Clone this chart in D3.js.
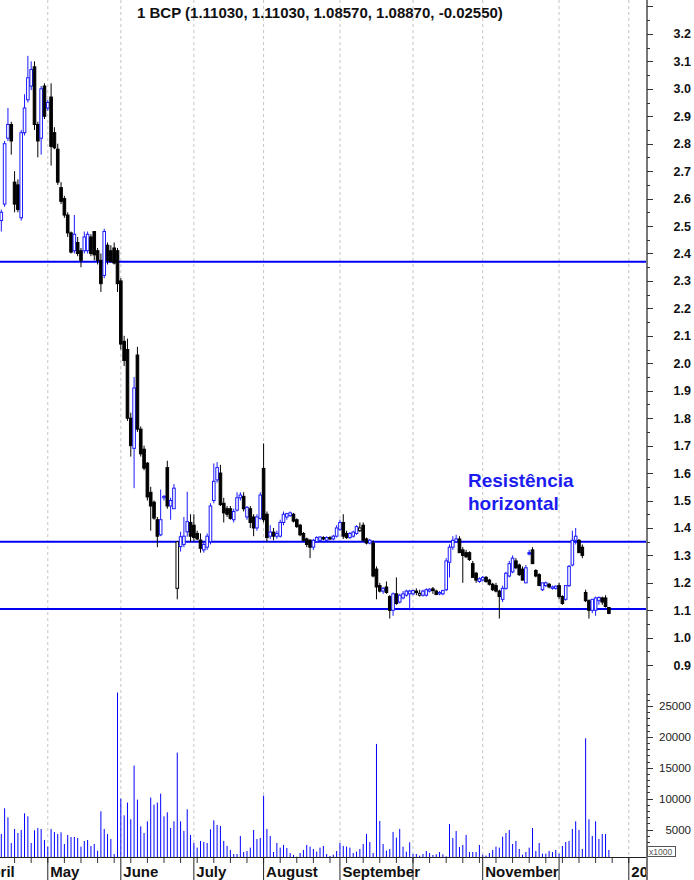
<!DOCTYPE html>
<html><head><meta charset="utf-8">
<script src="https://cdn.jsdelivr.net/npm/d3@7"></script>
<style>html,body{margin:0;padding:0;background:#fff;} svg{display:block;}</style>
</head><body>
<svg id="c" width="694" height="880"></svg>
<script>
// ---- DATA ----
const titleText = "1 BCP (1.11030, 1.11030, 1.08570, 1.08870, -0.02550)";
const opens = [
2.52,2.58,2.82,2.87,2.66,2.65,2.53,2.84,2.96,3.01,3.08,2.87,2.82,3.01,
2.93,2.97,2.84,2.78,2.64,2.60,2.54,2.475,2.41,2.44,2.41,2.41,2.41,2.46,2.48,2.41,2.375,2.32,2.43,2.41,2.42,2.41,
2.30,2.08,2.05,1.80,1.69,2.03,1.76,1.687,1.636,1.53,1.494,1.43,1.375,1.51,1.62,1.48,1.47,1.18,1.332,1.34,1.386,1.42,
1.41,1.38,1.356,1.32,1.33,1.35,1.50,1.575,1.60,1.49,1.47,1.47,1.43,1.465,1.51,1.515,1.44,1.47,1.44,1.40,1.435,
1.617,1.45,1.37,1.385,1.37,1.37,1.42,1.44,1.445,1.45,1.43,1.41,1.38,1.36,1.355,1.33,1.35,1.355,1.365,1.355,1.365,1.36,1.37,
1.395,1.42,1.38,1.365,1.37,1.38,1.39,1.41,1.36,1.345,1.345,1.25,1.19,1.17,1.185,1.15,1.10,1.16,1.13,1.145,1.155,1.16,
1.16,1.17,1.155,1.155,1.155,1.17,1.178,1.17,1.16,1.16,1.175,1.275,1.33,1.35,1.36,1.32,1.31,1.31,1.27,1.235,1.205,
1.21,1.22,1.21,1.195,1.19,1.17,1.14,1.18,1.225,1.24,1.28,1.265,1.25,1.20,1.31,1.32,1.245,1.23,1.175,1.19,1.195,1.18,1.18,
1.19,1.15,1.14,1.19,1.265,1.355,1.355,1.33,1.165,1.135,1.10,1.10,1.135,1.145,1.145,1.1103];
const highs = [
2.56,2.81,2.93,2.88,2.70,2.67,2.85,2.98,3.12,3.10,3.10,2.88,3.01,3.02,
2.96,3.02,2.86,2.80,2.66,2.61,2.55,2.48,2.54,2.46,2.42,2.48,2.48,2.47,2.48,2.42,2.40,2.49,2.44,2.43,2.44,2.42,
2.31,2.10,2.09,1.82,1.95,2.06,1.77,1.70,1.64,1.55,1.50,1.44,1.54,1.52,1.645,1.51,1.56,1.35,1.386,1.44,1.532,1.45,
1.45,1.39,1.38,1.35,1.38,1.49,1.635,1.64,1.63,1.51,1.48,1.48,1.47,1.53,1.53,1.53,1.48,1.48,1.45,1.45,1.53,
1.708,1.46,1.41,1.40,1.39,1.43,1.46,1.455,1.46,1.455,1.435,1.415,1.385,1.365,1.36,1.36,1.37,1.37,1.37,1.37,1.37,1.375,1.41,
1.43,1.45,1.39,1.385,1.39,1.41,1.42,1.42,1.365,1.36,1.355,1.26,1.20,1.185,1.205,1.155,1.165,1.22,1.16,1.17,1.175,1.175,
1.175,1.18,1.175,1.175,1.18,1.18,1.185,1.175,1.17,1.175,1.29,1.34,1.37,1.375,1.37,1.33,1.32,1.315,1.28,1.24,1.22,
1.225,1.225,1.215,1.20,1.20,1.175,1.19,1.24,1.28,1.30,1.29,1.27,1.26,1.265,1.32,1.33,1.25,1.235,1.20,1.205,1.20,1.19,1.19,
1.20,1.155,1.19,1.265,1.39,1.40,1.36,1.34,1.175,1.14,1.14,1.15,1.15,1.15,1.155,1.1103];
const lows = [
2.48,2.57,2.81,2.76,2.55,2.55,2.52,2.83,2.95,2.995,2.85,2.75,2.76,2.89,
2.92,2.72,2.78,2.65,2.58,2.53,2.46,2.40,2.40,2.39,2.35,2.40,2.40,2.39,2.375,2.36,2.26,2.31,2.36,2.37,2.36,2.26,
2.05,1.99,1.79,1.66,1.545,1.75,1.66,1.61,1.50,1.39,1.43,1.33,1.37,1.50,1.47,1.43,1.47,1.14,1.314,1.33,1.368,1.35,
1.35,1.355,1.31,1.31,1.32,1.34,1.49,1.565,1.48,1.42,1.44,1.43,1.42,1.46,1.50,1.46,1.43,1.40,1.37,1.39,1.43,
1.42,1.35,1.36,1.355,1.36,1.365,1.41,1.43,1.44,1.42,1.40,1.37,1.35,1.33,1.29,1.32,1.345,1.35,1.355,1.35,1.355,1.355,1.365,
1.39,1.36,1.36,1.36,1.365,1.375,1.385,1.35,1.34,1.34,1.22,1.14,1.165,1.16,1.16,1.07,1.08,1.12,1.125,1.14,1.15,1.10,
1.155,1.155,1.15,1.15,1.15,1.165,1.16,1.155,1.155,1.155,1.17,1.22,1.32,1.345,1.31,1.20,1.29,1.28,1.22,1.20,1.20,
1.205,1.20,1.19,1.17,1.165,1.07,1.13,1.175,1.22,1.235,1.25,1.225,1.21,1.20,1.30,1.27,1.22,1.19,1.17,1.185,1.18,1.175,1.175,
1.14,1.12,1.135,1.185,1.26,1.34,1.31,1.29,1.13,1.07,1.09,1.08,1.12,1.12,1.11,1.0857];
const closes = [
2.55,2.80,2.87,2.81,2.58,2.56,2.84,2.93,3.04,3.07,2.87,2.81,3.00,2.90,
2.95,2.79,2.785,2.66,2.59,2.54,2.475,2.405,2.47,2.40,2.375,2.46,2.47,2.40,2.395,2.375,2.29,2.48,2.375,2.37,2.365,2.29,
2.07,2.01,1.80,1.70,1.91,1.76,1.67,1.618,1.513,1.48,1.436,1.37,1.43,1.515,1.48,1.50,1.545,1.35,1.368,1.37,1.423,1.37,
1.365,1.36,1.326,1.34,1.37,1.48,1.57,1.62,1.485,1.455,1.45,1.435,1.46,1.51,1.52,1.47,1.475,1.42,1.40,1.44,1.52,
1.43,1.365,1.385,1.37,1.38,1.42,1.45,1.452,1.455,1.425,1.405,1.375,1.355,1.34,1.33,1.355,1.365,1.367,1.36,1.365,1.36,1.37,1.40,
1.42,1.37,1.365,1.38,1.385,1.405,1.40,1.355,1.345,1.355,1.225,1.185,1.17,1.18,1.165,1.10,1.16,1.125,1.155,1.16,1.17,1.17,
1.172,1.165,1.162,1.17,1.175,1.177,1.172,1.158,1.165,1.172,1.28,1.33,1.355,1.36,1.31,1.30,1.295,1.285,1.22,1.21,1.215,
1.22,1.205,1.195,1.175,1.17,1.15,1.18,1.235,1.27,1.29,1.255,1.23,1.21,1.255,1.305,1.27,1.225,1.19,1.20,1.20,1.185,1.185,1.188,
1.15,1.125,1.19,1.26,1.355,1.37,1.31,1.30,1.135,1.10,1.14,1.145,1.147,1.13,1.114,1.0887];
const volumes = [
4280,8440,6980,2820,5090,4440,4930,7630,7140,2820,4870,5250,5090,3310,
2230,5090,4600,4280,4550,2660,4120,3790,3790,3630,2230,3150,3310,2340,2660,1580,7950,5090,4280,3470,1040,27180,
10000,7300,9360,6660,15350,9840,5520,4440,6330,10170,9030,9360,10810,7140,7790,5250,6330,17460,6330,4770,8280,4120,
2820,2070,3150,2980,2820,5040,6490,5740,5580,3150,2340,1690,1040,1040,3960,1360,1530,2070,4930,3470,3630,
10490,5090,3960,1360,2820,2070,2500,2010,1200,880,600,1200,1690,2500,2230,1850,1420,2070,2340,1040,720,930,1530,
2820,2340,2230,2070,1200,1420,1850,2660,4280,2980,1200,18860,6390,2660,1580,1850,4600,3690,5090,2230,1420,2930,
1040,1040,770,1040,1530,1200,880,990,1360,990,660,5900,3630,4770,2170,2500,4120,1360,1360,1360,2500,
930,770,1200,1690,2230,2070,3850,4440,4930,2660,3150,1850,930,1360,2070,5250,1530,2820,1090,1090,1530,1360,1690,
1090,2340,2980,3150,5090,6330,4930,1850,19780,6660,3960,6330,3470,4280,4280,1690];
// month starts (trading-day index) and their labels
const monthStarts = [-7, 14, 36, 58, 79, 102, 124, 145, 168, 189];
const monthLabels = ["April","May","June","July","August","September","","November","","2009"];
const priceLabels = [0.9,1.0,1.1,1.2,1.3,1.4,1.5,1.6,1.7,1.8,1.9,2.0,2.1,2.2,2.3,2.4,2.5,2.6,2.7,2.8,2.9,3.0,3.1,3.2];
const volumeLabels = [5000,10000,15000,20000,25000];
const levels = [2.37, 1.35, 1.105];
const noteLines = ["Resistência", "horizontal"];

// ---- LAYOUT ----
const axisX = 647, volBase = 857;
const BLUE = "#0000f0", CANDLE_BLUE = "#1a1aff";
const svg = d3.select("#c");
const x = d3.scaleLinear().domain([0, 189]).range([1.3, 628.8]);
const y = d3.scaleLinear().domain([0.9, 3.2]).range([665.2, 33.9]);
const yv = d3.scaleLinear().domain([0, 25000]).range([860.4, 706]);

svg.append("defs").append("clipPath").attr("id","plot")
  .append("rect").attr("x",0).attr("y",0).attr("width",axisX).attr("height",880);

const plot = svg.append("g").attr("clip-path","url(#plot)");

// vertical dashed month gridlines
plot.append("g").selectAll("line").data(monthStarts).join("line")
  .attr("x1", d => x(d)).attr("x2", d => x(d))
  .attr("y1", 0).attr("y2", volBase)
  .attr("stroke", "#c4c4c4").attr("stroke-width", 1).attr("stroke-dasharray", "3,3");

// horizontal support / resistance lines
plot.append("g").selectAll("line").data(levels).join("line")
  .attr("x1", 0).attr("x2", axisX)
  .attr("y1", d => y(d)).attr("y2", d => y(d))
  .attr("stroke", BLUE).attr("stroke-width", 2);

// candles
const candles = opens.map((o, i) => ({
  i, o, h: highs[i], l: lows[i], c: closes[i],
  up: i === 0 ? true : closes[i] >= closes[i-1],
  hollow: closes[i] >= o
}));
const cg = plot.append("g");
const bw = 2.6;
cg.selectAll("line").data(candles).join("line")
  .attr("x1", d => x(d.i)).attr("x2", d => x(d.i))
  .attr("y1", d => y(d.h)).attr("y2", d => y(d.l))
  .attr("stroke", d => d.up ? CANDLE_BLUE : "#000").attr("stroke-width", 1);
cg.selectAll("rect").data(candles).join("rect")
  .attr("x", d => x(d.i) - bw/2)
  .attr("y", d => y(Math.max(d.o, d.c)))
  .attr("width", bw)
  .attr("height", d => Math.max(0.5, Math.abs(y(d.o) - y(d.c))))
  .attr("fill", d => d.hollow ? "#fff" : (d.up ? CANDLE_BLUE : "#000"))
  .attr("stroke", d => d.up ? CANDLE_BLUE : "#000").attr("stroke-width", 1);

// volume bars
plot.append("g").selectAll("line").data(volumes).join("line")
  .attr("x1", (d,i) => x(i)).attr("x2", (d,i) => x(i))
  .attr("y1", volBase).attr("y2", d => yv(d))
  .attr("stroke", "#0000ff").attr("stroke-width", 1);

// bottom axis
svg.append("line").attr("x1",0).attr("x2",axisX).attr("y1",volBase+0.5).attr("y2",volBase+0.5)
  .attr("stroke","#222").attr("stroke-width",1);
const weekTicks = d3.range(4, 190, 5);
plot.append("g").selectAll("line").data(weekTicks).join("line")
  .attr("x1", d => x(d)).attr("x2", d => x(d)).attr("y1", volBase).attr("y2", volBase+6)
  .attr("stroke","#333").attr("stroke-width",1);
plot.append("g").selectAll("line").data(monthStarts).join("line")
  .attr("x1", d => x(d)).attr("x2", d => x(d)).attr("y1", volBase).attr("y2", 880)
  .attr("stroke","#222").attr("stroke-width",1);
plot.append("g").selectAll("text").data(monthStarts).join("text")
  .attr("x", d => x(d) + 2.5).attr("y", 877)
  .attr("font-family","Liberation Sans, Arial, sans-serif").attr("font-weight","bold")
  .attr("font-size", 15).attr("fill","#111")
  .text((d,i) => monthLabels[i]);

// right axis
svg.append("line").attr("x1",axisX).attr("x2",axisX).attr("y1",0).attr("y2",880)
  .attr("stroke","#777").attr("stroke-width",2);
const pTicks = d3.range(17, 67).map(k => k * 0.05);
svg.append("g").selectAll("line").data(pTicks).join("line")
  .attr("x1", axisX).attr("x2", (d) => axisX + (Math.round(d*20) % 2 === 0 ? 6 : 3))
  .attr("y1", d => Math.round(y(d)) + 0.5).attr("y2", d => Math.round(y(d)) + 0.5)
  .attr("stroke","#333").attr("stroke-width",1);
const vTicks = d3.range(1, 28).map(k => k * 1000);
svg.append("g").selectAll("line").data(vTicks).join("line")
  .attr("x1", axisX).attr("x2", d => axisX + (d % 5000 === 0 ? 6 : 3))
  .attr("y1", d => Math.round(yv(d)) + 0.5).attr("y2", d => Math.round(yv(d)) + 0.5)
  .attr("stroke","#333").attr("stroke-width",1);
svg.append("g").selectAll("text").data(priceLabels).join("text")
  .attr("x", 691).attr("y", d => y(d)).attr("dy","0.36em").attr("text-anchor","end")
  .attr("font-family","Liberation Sans, Arial, sans-serif").attr("font-weight","bold")
  .attr("font-size", 12.5).attr("fill","#111")
  .text(d => d3.format(".1f")(d));
svg.append("g").selectAll("text").data(volumeLabels).join("text")
  .attr("x", 691).attr("y", d => yv(d)).attr("dy","0.36em").attr("text-anchor","end")
  .attr("font-family","Liberation Sans, Arial, sans-serif")
  .attr("font-size", 11.5).attr("fill","#222")
  .text(d => d);
// x1000 box
svg.append("rect").attr("x",axisX+0.5).attr("y",846.5).attr("width",28).attr("height",10)
  .attr("fill","#fff").attr("stroke","#555").attr("stroke-width",1);
svg.append("text").attr("x",axisX+2).attr("y",854.5)
  .attr("font-family","Liberation Sans, Arial, sans-serif").attr("font-size",8.5).attr("fill","#555")
  .text("x1000");

// title
svg.append("text").attr("x", 137).attr("y", 18)
  .attr("font-family","Liberation Sans, Arial, sans-serif").attr("font-weight","bold")
  .attr("font-size", 15).attr("fill","#111").text(titleText);

// annotation
svg.append("g").selectAll("text").data(noteLines).join("text")
  .attr("x", 468).attr("y", (d,i) => 487 + i*23)
  .attr("font-family","Liberation Sans, Arial, sans-serif").attr("font-weight","bold")
  .attr("font-size", 19).attr("fill","#1c1cf0").text(d => d);
</script>
</body></html>
